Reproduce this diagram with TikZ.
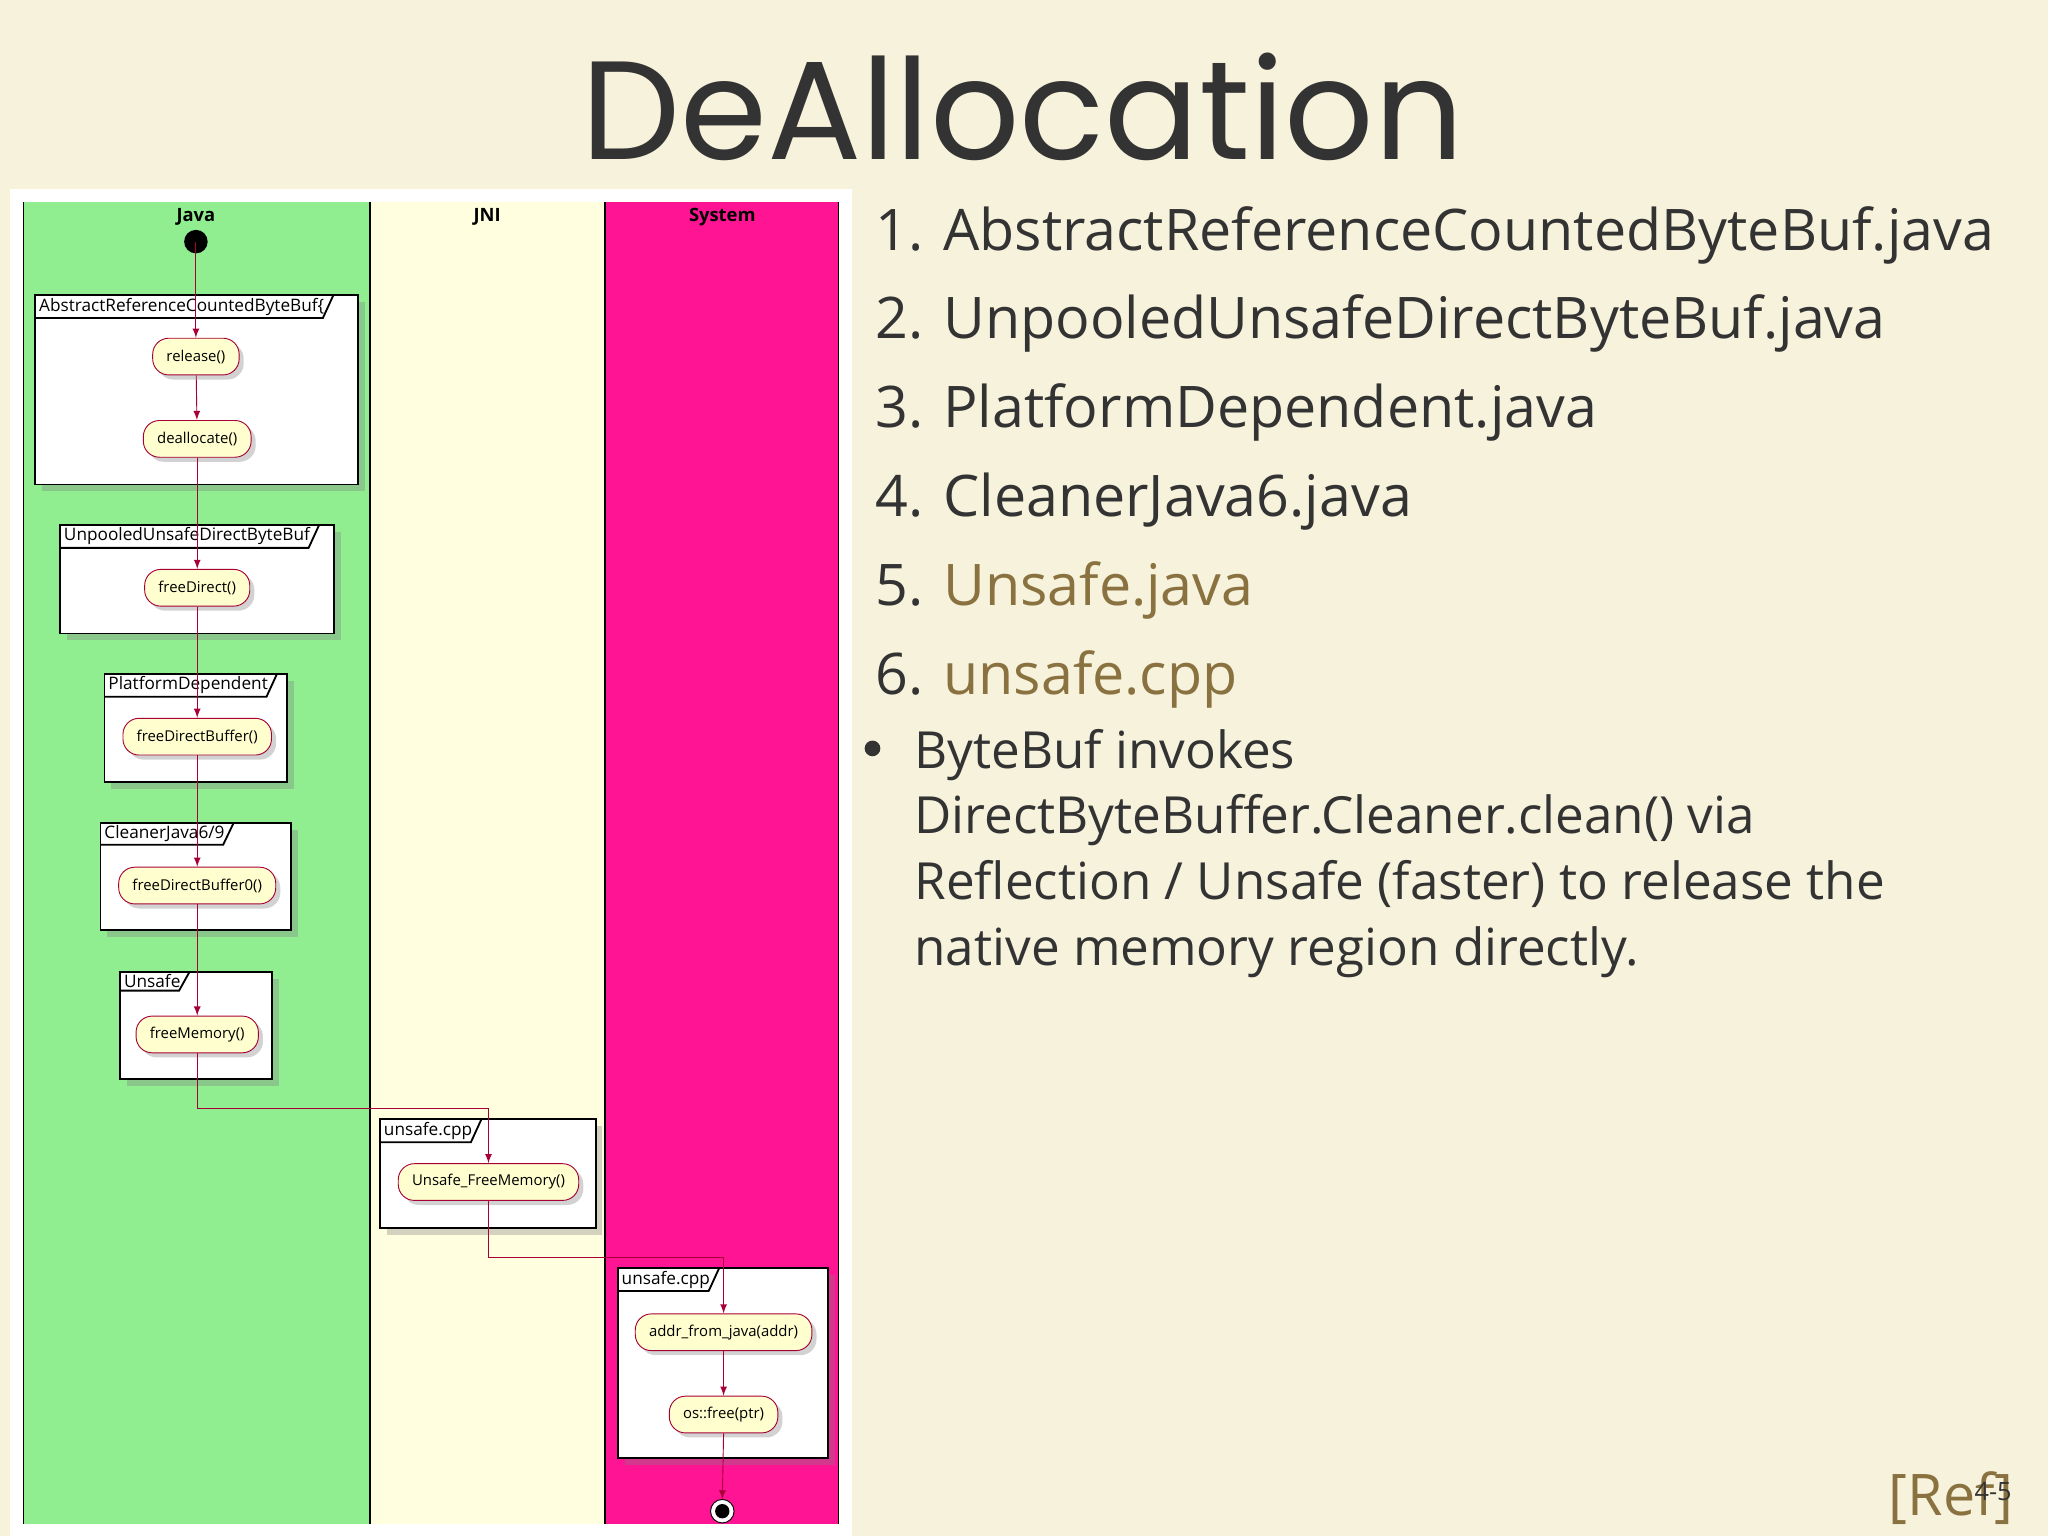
\documentclass[tikz,border=0pt]{standalone}
\usepackage{fontspec}
\setmainfont{Open Sans}
\newfontfamily\titlefont{Poppins}
\usetikzlibrary{calc,shadows}
\definecolor{bg}{HTML}{F6F2DC}
\definecolor{plred}{HTML}{A80036}
\definecolor{plnode}{HTML}{FEFECE}
\definecolor{lgreen}{HTML}{90EE90}
\definecolor{lyel}{HTML}{FFFFE0}
\definecolor{lmag}{HTML}{FF1493}
\definecolor{olive}{HTML}{8A7240}
\definecolor{txt}{HTML}{333333}
\begin{document}
\begin{tikzpicture}[x=0.02cm,y=-0.02cm,
 act/.style={draw=plred,fill=plnode,rounded corners=7pt,minimum height=16pt,inner ysep=1pt,inner xsep=6pt,font=\fontsize{6.5}{7}\selectfont,drop shadow={shadow xshift=2pt,shadow yshift=-2pt,opacity=0.35}},
 fr/.style={draw=black,thick,fill=white,drop shadow={shadow xshift=3pt,shadow yshift=-3pt,opacity=0.35}},
 tab/.style={anchor=north west,inner xsep=1.5pt,inner ysep=1pt,font=\fontsize{7.5}{8}\selectfont},
 con/.style={draw=plred,-{latex},thin},
 item/.style={anchor=west,font=\fontsize{25}{30}\selectfont,text=txt}]
\useasboundingbox (0,0) rectangle (1568,1176);
\fill[bg] (0,0) rectangle (1568,1176);
\node[font=\titlefont\fontsize{61}{62}\selectfont,text=txt,inner sep=0pt] (title) at (783,82) {DeAllocation};
% panel
\fill[white] (8,145) rectangle (652,1176);
\fill[lgreen] (18,155) rectangle (283,1167);
\fill[lyel] (283,155) rectangle (463,1167);
\fill[lmag] (463,155) rectangle (642,1167);
\foreach \x in {18,283,463,642}{\draw[thick] (\x,155) -- (\x,1167);}
\node[font=\bfseries\fontsize{8}{9}\selectfont,inner sep=1pt] (hj) at (150,166) {Java};
\node[font=\bfseries\fontsize{8}{9}\selectfont,inner sep=1pt] (hn) at (373,166) {JNI};
\node[font=\bfseries\fontsize{8}{9}\selectfont,inner sep=1pt] (hs) at (553,166) {System};
% frames
\newcommand\umlfr[6]{\draw[fr] (#1,#2) rectangle (#3,#4);
 \node[tab] (#6) at (#1,#2) {#5};
 \draw[thick] (#6.south west) -- ($(#6.south east)+(-4,0)$) -- ($(#6.north east)+(4,0)$);}
\umlfr{27}{226}{274}{371}{AbstractReferenceCountedByteBuf\{}{f1}
\umlfr{46}{402}{256}{485}{UnpooledUnsafeDirectByteBuf}{f2}
\umlfr{80}{516}{220}{599}{PlatformDependent}{f3}
\umlfr{77}{630}{223}{712}{CleanerJava6/9}{f4}
\umlfr{92}{744}{208}{826}{Unsafe}{f5}
\umlfr{291}{857}{456}{940}{unsafe.cpp}{f6}
\umlfr{473}{971}{634}{1116}{unsafe.cpp}{f7}
% nodes
\fill (150,185) circle (9);
\coordinate (start) at (150,185);
\node[act] (a1) at (150,273) {release()};
\node[act] (a2) at (151,336) {deallocate()};
\node[act] (a3) at (151,450) {freeDirect()};
\node[act] (a4) at (151,564) {freeDirectBuffer()};
\node[act] (a5) at (151,678) {freeDirectBuffer0()};
\node[act] (a6) at (151,792) {freeMemory()};
\node[act] (a7) at (374,905) {Unsafe\_FreeMemory()};
\node[act] (a8) at (554,1020) {addr\_from\_java(addr)};
\node[act] (a9) at (554,1083) {os::free(ptr)};
\coordinate (end) at (553,1157);
\draw[fill=white] (end) circle (9);
\fill (end) circle (5.5);
\draw[con] (start) -- (a1);
\draw[con] (a1) -- (a2);
\draw[con] (a2.south) -- (a2.south |- a3.north);
\draw[con] (a3.south) -- (a3.south |- a4.north);
\draw[con] (a4.south) -- (a4.south |- a5.north);
\draw[con] (a5.south) -- (a5.south |- a6.north);
\draw[con] (a6.south) -- (151,849) -| (a7.north);
\draw[con] (a7.south) -- (374,963) -| (a8.north);
\draw[con] (a8) -- (a9);
\draw[con] (a9.south) -- ($(end)+(0,-9)$);
% list
\node[item] (l1) at (664,180) {1. AbstractReferenceCountedByteBuf.java};
\node[item] (l2) at (664,248) {2. UnpooledUnsafeDirectByteBuf.java};
\node[item] (l3) at (664,316) {3. PlatformDependent.java};
\node[item] (l4) at (664,384) {4. CleanerJava6.java};
\node[item] (l5) at (664,452) {5. \textcolor{olive}{Unsafe.java}};
\node[item] (l6) at (664,520) {6. \textcolor{olive}{unsafe.cpp}};
\fill[txt] (668,573) circle (6);
\node[item,anchor=north west,align=left,font=\fontsize{22.3}{28.6}\selectfont] (b1) at (694,552) {ByteBuf invokes\\DirectByteBuffer.Cleaner.clean() via\\Reflection / Unsafe (faster) to release the\\native memory region directly.};
\node[anchor=east,font=\fontsize{25}{30}\selectfont,text=olive] (ref) at (1548,1147) {[Ref]};
\node[font=\fontsize{11}{12}\selectfont,text=txt,inner sep=0pt] (pg) at (1526,1142) {4-5};
\end{tikzpicture}
\end{document}
